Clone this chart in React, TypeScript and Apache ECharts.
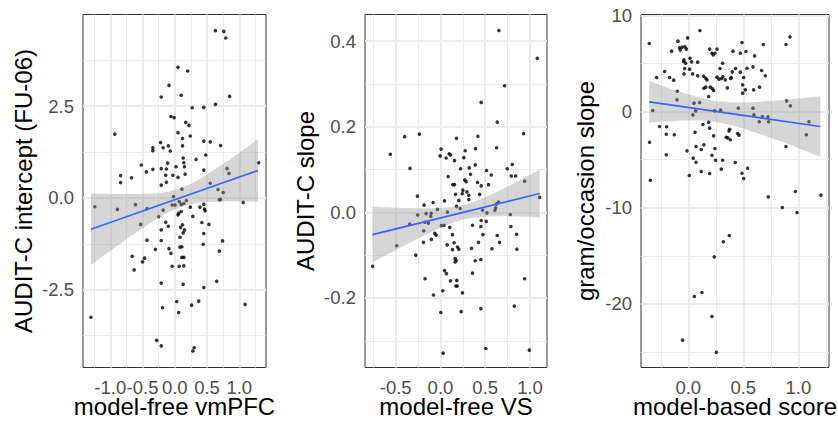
import React, { useEffect, useRef } from "react";
import * as echarts from "echarts";

const FONT = "'Liberation Sans', Arial, Helvetica, sans-serif";

// ---- Left panel: model-free vmPFC vs AUDIT-C intercept (FU-06) ----
const vmpfcPoints: [number, number][] = [
  [0.63, 4.56], [0.76, 4.54], [0.79, 4.36], [0.05, 3.56], [0.2, 3.46], [-0.09, 3.07],
  [0.85, 2.77], [-0.21, 2.75], [0.1, 2.8], [0.63, 2.55], [0.27, 2.46], [0.45, 2.47],
  [-0.93, 1.74], [-0.06, 2.22], [-0.01, 2.19], [0.17, 2.06], [0.22, 1.98], [0.24, 1.69],
  [0.05, 1.78], [0.45, 1.55], [0.55, 1.53], [0.71, 1.43], [-0.22, 1.51], [-0.1, 1.42],
  [-0.18, 1.37], [-0.34, 1.37], [-0.34, 1.29], [0.12, 1.62], [0.12, 1.42], [-0.07, 1.28],
  [0.48, 1.17], [0.13, 1.09], [0.14, 0.96], [0.33, 1.05], [-0.11, 0.95], [-0.52, 0.9],
  [-0.44, 0.71], [-0.34, 0.78], [-0.21, 0.8], [-0.13, 0.79], [0.02, 0.85], [0.15, 0.85],
  [0.16, 0.65], [-0.03, 0.62], [0.05, 0.56], [-0.14, 0.62], [-0.13, 0.43], [-0.21, 0.35],
  [-0.84, 0.61], [-0.84, 0.42], [-0.67, 0.55], [0.81, 0.8], [0.84, 0.67], [1.3, 0.96],
  [0.55, 0.4], [-0.02, 0.04], [0.67, 0.23], [0.75, 0.15], [0.11, 0.24], [0.45, 0.76],
  [-1.24, -0.24], [-0.89, -0.31], [-0.61, -0.18], [-0.43, -0.29], [-0.53, -0.72],
  [-0.66, -1.59], [-0.63, -1.96], [-0.5, -1.74], [-0.47, -1.64], [-0.43, -1.15],
  [-0.3, -1.4], [-0.25, -0.51], [-0.18, -0.33], [-0.14, -0.66], [-0.21, -0.87],
  [-0.1, -0.77], [-0.21, -1.16], [-0.09, -1.38], [-0.06, -1.51], [-0.04, -1.86],
  [-0.04, -0.19], [0.005, -0.19], [0.07, -0.1], [0.1, -0.18], [0.14, -0.15], [0.18, -0.07],
  [0.06, -0.42], [0.1, -0.37], [0.05, -0.46], [0.24, -0.25], [0.09, -0.8], [0.12, -0.73],
  [0.15, -0.87], [0.13, -0.95], [0.08, -1.07], [0.08, -1.34], [0.11, -1.33], [0.14, -1.62],
  [0.11, -1.62], [0.07, -1.86], [0.14, -1.85], [0.13, -2.35], [-0.21, -2.32], [-0.19, -2.99],
  [0.03, -2.82], [0.06, -3.12], [-0.28, -3.88], [-0.21, -4.03], [0.28, -4.17], [0.3, -4.08],
  [0.26, -2.92], [0.37, -2.81], [0.45, -2.44], [0.65, -2.27], [0.44, -1.26], [0.45, -0.97],
  [0.42, -0.67], [0.53, -0.72], [0.39, -0.25], [0.47, -0.35], [0.46, -0.3], [0.45, -0.17],
  [0.28, -0.5], [0.69, -1.45], [0.74, -1.17], [0.69, -0.05], [0.71, -0.04], [1.09, -2.9],
  [1.06, -0.12], [-1.3, -3.25],
];
const vmpfcFitX = [-1.3, 1.29];
const vmpfcFitY = [-0.85, 0.75];
const vmpfcBandX = [-1.3, -0.9, -0.5, -0.1, 0.3, 0.7, 1.0, 1.29];
const vmpfcBandLow = [-1.82, -1.315, -0.825, -0.39, -0.149, -0.097, -0.093, -0.098];
const vmpfcBandHigh = [0.12, 0.109, 0.113, 0.17, 0.427, 0.869, 1.235, 1.598];
const vmpfcXLim = [-1.423, 1.414];
const vmpfcYLim = [-4.62, 5.0];
const vmpfcXMajor = [-1.0, -0.5, 0.0, 0.5, 1.0];
const vmpfcXMinor = [-1.25, -0.75, -0.25, 0.25, 0.75, 1.25];
const vmpfcYMajor = [-2.5, 0.0, 2.5];
const vmpfcYMinor = [-3.75, -1.25, 1.25, 3.75];

// ---- Middle panel: model-free VS vs AUDIT-C slope ----
const vsPoints: [number, number][] = [
  [0.653, 0.425], [1.082, 0.36], [0.716, 0.296], [0.455, 0.257], [0.634, 0.211], [0.929, 0.184],
  [-0.235, 0.183], [-0.399, 0.177], [-0.56, 0.136], [-0.34, 0.103], [0.179, 0.173], [0.418, 0.178],
  [0.627, 0.151], [0.392, 0.149], [0.007, 0.148], [-0.004, 0.132], [0.063, 0.127], [0.097, 0.137],
  [0.112, 0.134], [0.157, 0.121], [0.276, 0.144], [0.261, 0.128], [0.388, 0.111], [0.224, 0.102],
  [0.321, 0.104], [0.336, 0.089], [0.515, 0.098], [0.567, 0.0875], [0.086, 0.084], [0.272, 0.076],
  [0.287, 0.072], [0.414, 0.07], [0.455, 0.062], [0.537, 0.065], [0.746, 0.102], [0.802, 0.112],
  [0.791, 0.085], [0.84, 0.085], [0.94, 0.073], [0.138, 0.065], [0.157, 0.065], [0.25, 0.052],
  [0.295, 0.048], [0.168, 0.042], [0.243, 0.044], [0.437, 0.042], [-0.257, 0.038], [0.317, 0.04],
  [1.108, 0.035], [-0.183, 0.017], [-0.082, 0.023], [0.045, 0.027], [0.205, 0.028], [0.317, 0.03],
  [0.179, 0.014], [0.22, 0.009], [0.078, 0.001], [-0.034, 0.007], [-0.104, -0.002], [-0.16, -0.003],
  [-0.254, -0.006], [-0.108, -0.009], [-0.175, -0.023], [-0.134, -0.025], [-0.343, -0.027],
  [-0.489, -0.078], [-0.757, -0.126], [-0.276, -0.1], [-0.187, -0.043], [-0.19, -0.07],
  [-0.101, -0.063], [-0.063, -0.049], [-0.049, -0.053], [0.011, -0.031], [0.041, -0.03],
  [0.104, -0.035], [0.134, -0.052], [0.075, -0.076], [0.153, -0.071], [0.19, -0.081],
  [0.205, -0.086], [0.134, -0.087], [0.164, -0.108], [0.175, -0.1125], [0.164, -0.116],
  [0.045, -0.136], [0.067, -0.143], [-0.172, -0.155], [0.112, -0.16], [0.183, -0.159],
  [0.187, -0.172], [0.172, -0.172], [0.246, -0.188], [0.026, -0.183], [-0.078, -0.193],
  [0.004, -0.234], [0.231, -0.232], [0.451, -0.225], [0.358, -0.03], [0.451, -0.033],
  [0.455, -0.019], [0.474, -0.052], [0.425, -0.07], [0.347, -0.084], [0.388, -0.113],
  [0.451, -0.11], [0.358, -0.142], [0.634, -0.054], [0.66, -0.07], [0.575, -0.085],
  [0.511, -0.021], [0.519, -0.001], [0.47, 0.005], [0.608, 0.005], [0.616, 0.011],
  [0.627, 0.02], [0.649, 0.024], [0.78, -0.005], [0.787, -0.033], [0.851, -0.051],
  [0.854, -0.086], [0.94, -0.155], [0.825, -0.219], [0.03, -0.329], [0.507, -0.318],
  [0.993, -0.322],
];
const vsFitX = [-0.76, 1.108];
const vsFitY = [-0.052, 0.044];
const vsBandX = [-0.76, -0.4, 0.0, 0.25, 0.5, 0.8, 1.108];
const vsBandLow = [-0.117, -0.0774, -0.036, -0.017, -0.01, -0.0095, -0.0115];
const vsBandHigh = [0.013, 0.0104, 0.0102, 0.017, 0.0356, 0.0661, 0.0995];
const vsXLim = [-0.843, 1.19];
const vsYLim = [-0.3625, 0.4625];
const vsXMajor = [-0.5, 0.0, 0.5, 1.0];
const vsXMinor = [-0.75, -0.25, 0.25, 0.75];
const vsYMajor = [-0.2, 0.0, 0.2, 0.4];
const vsYMinor = [-0.3, -0.1, 0.1, 0.3];

// ---- Right panel: model-based score vs gram/occasion slope ----
const mbPoints: [number, number][] = [
  [-0.355, 7.07], [-0.324, 0.1], [-0.352, -3.19], [-0.345, -7.14], [-0.288, 3.53], [-0.261, -1.56],
  [-0.2, -2.36], [-0.2, -4.5], [-0.215, 4.16], [-0.17, 3.53], [-0.133, 3.26], [-0.127, -2.42],
  [-0.197, -1.59], [-0.152, 6.27], [-0.1, 2.11], [-0.103, 1.21], [-0.094, 7.31], [-0.073, 6.41],
  [-0.079, 6.62], [-0.055, 6.69], [-0.03, 6.72], [-0.018, 6.48], [-0.006, 7.65], [-0.039, 5.37],
  [-0.042, 5.2], [-0.024, 5.02], [-0.033, 4.47], [-0.039, 3.91], [0.012, 4.4], [0.015, 5.54],
  [0.03, 5.16], [0.039, 3.91], [0.085, 5.13], [0.106, 8.42], [0.052, 0.87], [0.042, -0.35],
  [0.067, 0.07], [0.103, 0.94], [0.061, -2.15], [-0.012, -4.09], [0.009, -6.65], [0.045, -4.85],
  [0.07, -3.64], [0.07, -5.27], [0.118, -6.23], [0.118, -3.95], [0.142, -3.46], [0.133, -1.35],
  [0.085, 3.71], [0.139, 3.67], [0.158, 3.46], [0.142, 2.42], [0.158, 2.53], [0.2, 2.53],
  [0.23, 2.18], [0.218, 2.39], [0.185, 1.56], [0.17, 3.29], [0.194, 6.48], [0.215, 6.06],
  [0.227, 5.89], [0.242, 6.06], [0.261, 6.48], [0.194, -1.73], [0.185, -1.11], [0.23, -2.53],
  [0.242, -3.84], [0.248, -5.06], [0.215, -4.54], [0.194, -6.44], [0.3, -5.99], [0.312, -5.06],
  [0.288, 4.47], [0.312, 5.02], [0.261, 3.57], [0.279, 3.36], [0.303, 3.43], [0.315, 3.64],
  [0.294, 0.14], [0.336, 3.29], [0.355, 2.46], [0.385, 3.43], [0.4, 4.12], [0.43, 4.47],
  [0.391, 3.53], [0.376, -1.84], [0.37, -2.01], [0.358, -2.74], [0.345, -2.67], [0.382, -2.94],
  [0.448, -2.29], [0.461, -2.46], [0.427, -5.3], [0.406, 6.27], [0.473, 6.06], [0.488, 7.17],
  [0.524, 6.23], [0.473, 4.09], [0.503, 3.53], [0.518, 2.25], [0.494, 2.77], [0.494, 1.91],
  [0.455, 0.35], [0.533, 4.5], [0.588, 4.64], [0.603, 5.78], [0.594, 2.25], [0.648, 2.53],
  [0.588, 0.35], [0.597, -0.35], [0.645, -1.07], [0.673, -0.52], [0.73, -1.07], [0.724, -0.55],
  [0.488, -6.41], [0.503, -6.96], [0.539, -5.89], [0.667, 4.26], [0.7, 3.71], [0.682, 6.96],
  [0.888, 6.96], [0.924, 7.76], [0.894, 1.11], [0.927, 0.59], [0.888, -3.64], [1.073, -2.42],
  [1.097, -1.07], [0.727, -8.87], [0.973, -8.31], [1.206, -8.69], [0.855, -9.98], [0.988, -10.5],
  [0.373, -12.89], [0.318, -13.54], [0.236, -15.1], [0.124, -18.81], [0.055, -19.22],
  [0.215, -21.3], [-0.052, -23.76], [0.255, -25.01], [0.239, 0.07],
];
const mbFitX = [-0.355, 1.2];
const mbFitY = [1.0, -1.56];
const mbBandX = [-0.355, -0.1, 0.15, 0.3, 0.5, 0.8, 1.0, 1.2];
const mbBandLow = [-1.165, -0.958, -0.971, -1.19, -1.758, -2.936, -3.808, -4.71];
const mbBandHigh = [3.165, 2.118, 1.309, 1.034, 0.944, 1.134, 1.348, 1.59];
const mbXLim = [-0.43, 1.279];
const mbYLim = [-26.6, 10.08];
const mbXMajor = [0.0, 0.5, 1.0];
const mbXMinor = [-0.25, 0.25, 0.75, 1.25];
const mbYMajor = [-20, -10, 0, 10];
const mbYMinor = [-25, -15, -5, 5];

type Panel = {
  points: [number, number][];
  fitX: number[];
  fitY: number[];
  bandX: number[];
  bandLow: number[];
  bandHigh: number[];
  xLim: number[];
  yLim: number[];
  xMajor: number[];
  xMinor: number[];
  yMajor: number[];
  yMinor: number[];
  xDigits: number;
  yDigits: number;
  xTitle: string;
  yTitle: string;
  box: { left: number; top: number; width: number; height: number };
  yTitleX: number;
};

const panels: Panel[] = [
  {
    points: vmpfcPoints, fitX: vmpfcFitX, fitY: vmpfcFitY,
    bandX: vmpfcBandX, bandLow: vmpfcBandLow, bandHigh: vmpfcBandHigh,
    xLim: vmpfcXLim, yLim: vmpfcYLim,
    xMajor: vmpfcXMajor, xMinor: vmpfcXMinor, yMajor: vmpfcYMajor, yMinor: vmpfcYMinor,
    xDigits: 1, yDigits: 1,
    xTitle: "model-free vmPFC", yTitle: "AUDIT-C intercept (FU-06)",
    box: { left: 83, top: 14.5, width: 183, height: 353 }, yTitleX: 23,
  },
  {
    points: vsPoints, fitX: vsFitX, fitY: vsFitY,
    bandX: vsBandX, bandLow: vsBandLow, bandHigh: vsBandHigh,
    xLim: vsXLim, yLim: vsYLim,
    xMajor: vsXMajor, xMinor: vsXMinor, yMajor: vsYMajor, yMinor: vsYMinor,
    xDigits: 1, yDigits: 1,
    xTitle: "model-free VS", yTitle: "AUDIT-C slope",
    box: { left: 365, top: 14.5, width: 182, height: 353 }, yTitleX: 305,
  },
  {
    points: mbPoints, fitX: mbFitX, fitY: mbFitY,
    bandX: mbBandX, bandLow: mbBandLow, bandHigh: mbBandHigh,
    xLim: mbXLim, yLim: mbYLim,
    xMajor: mbXMajor, xMinor: mbXMinor, yMajor: mbYMajor, yMinor: mbYMinor,
    xDigits: 1, yDigits: 0,
    xTitle: "model-based score", yTitle: "gram/occasion slope",
    box: { left: 641, top: 14.5, width: 188, height: 353 }, yTitleX: 585,
  },
];

const GRID_COLOR = "#EBEBEB";
const TEXT_GREY = "#4D4D4D";
const FRAME_GREY = "#333333";

// Catmull-Rom curve through pixel points, written as cubic Bezier path commands.
function curveThrough(pts: number[][]): string {
  let d = "";
  for (let k = 0; k < pts.length - 1; k++) {
    const p0 = pts[Math.max(0, k - 1)];
    const p1 = pts[k];
    const p2 = pts[k + 1];
    const p3 = pts[Math.min(pts.length - 1, k + 2)];
    const c1x = p1[0] + (p2[0] - p0[0]) / 6;
    const c1y = p1[1] + (p2[1] - p0[1]) / 6;
    const c2x = p2[0] - (p3[0] - p1[0]) / 6;
    const c2y = p2[1] - (p3[1] - p1[1]) / 6;
    d += ` C ${c1x} ${c1y} ${c2x} ${c2y} ${p2[0]} ${p2[1]}`;
  }
  return d;
}

function buildOption() {
  const grid: any[] = [];
  const xAxis: any[] = [];
  const yAxis: any[] = [];
  const series: any[] = [];
  const graphic: any[] = [];

  panels.forEach((p, i) => {
    grid.push({
      ...p.box,
      show: true,
      backgroundColor: "#FFFFFF",
      borderColor: FRAME_GREY,
      borderWidth: 1,
      containLabel: false,
    });

    const axisCommon = (ticks: number[], digits: number) => ({
      type: "value",
      gridIndex: i,
      axisLine: { show: false },
      splitLine: { show: false },
      minorSplitLine: { show: false },
      axisTick: {
        show: true,
        inside: false,
        length: 4.5,
        customValues: ticks,
        lineStyle: { color: FRAME_GREY, width: 1 },
      },
      axisLabel: {
        show: true,
        customValues: ticks,
        hideOverlap: false,
        color: TEXT_GREY,
        fontSize: 18.5,
        fontFamily: FONT,
        formatter: (v: number) => v.toFixed(digits),
      },
    });

    const xa: any = axisCommon(p.xMajor, p.xDigits);
    xa.min = p.xLim[0];
    xa.max = p.xLim[1];
    xa.axisLabel.margin = 10;
    xAxis.push(xa);

    const ya: any = axisCommon(p.yMajor, p.yDigits);
    ya.min = p.yLim[0];
    ya.max = p.yLim[1];
    ya.axisLabel.margin = 9;
    yAxis.push(ya);

    const minorStyle = { color: GRID_COLOR, width: 1, type: "solid" };
    const majorStyle = { color: GRID_COLOR, width: 2, type: "solid" };
    const gridLines = [
      ...p.xMinor.map((v) => ({ xAxis: v, lineStyle: minorStyle })),
      ...p.yMinor.map((v) => ({ yAxis: v, lineStyle: minorStyle })),
      ...p.xMajor.map((v) => ({ xAxis: v, lineStyle: majorStyle })),
      ...p.yMajor.map((v) => ({ yAxis: v, lineStyle: majorStyle })),
    ];

    // panel grid lines
    series.push({
      type: "line",
      xAxisIndex: i,
      yAxisIndex: i,
      data: [],
      silent: true,
      z: 1,
      markLine: {
        silent: true,
        z: 1,
        symbol: ["none", "none"],
        label: { show: false },
        emphasis: { disabled: true },
        data: gridLines,
      },
    });

    // observations
    series.push({
      type: "scatter",
      xAxisIndex: i,
      yAxisIndex: i,
      data: p.points,
      symbol: "circle",
      symbolSize: 3.6,
      itemStyle: { color: "#000000" },
      silent: true,
      z: 3,
    });

    // confidence ribbon of the linear fit
    series.push({
      type: "custom",
      xAxisIndex: i,
      yAxisIndex: i,
      coordinateSystem: "cartesian2d",
      data: [[p.bandX[0], p.bandLow[0]]],
      silent: true,
      z: 4,
      renderItem: (params: any, api: any) => {
        if (params.dataIndex !== 0) return null;
        const upper = p.bandX.map((x, k) => api.coord([x, p.bandHigh[k]]));
        const lower = p.bandX
          .map((x, k) => api.coord([x, p.bandLow[k]]))
          .reverse();
        const d =
          `M ${upper[0][0]} ${upper[0][1]}` +
          curveThrough(upper) +
          ` L ${lower[0][0]} ${lower[0][1]}` +
          curveThrough(lower) +
          " Z";
        return {
          type: "path",
          shape: { pathData: d },
          style: { fill: "rgba(153,153,153,0.4)", stroke: "none" },
        };
      },
    });

    // fitted regression line
    series.push({
      type: "line",
      xAxisIndex: i,
      yAxisIndex: i,
      data: p.fitX.map((x, k) => [x, p.fitY[k]]),
      symbol: "none",
      lineStyle: { color: "#3366FF", width: 1.6 },
      silent: true,
      z: 5,
    });

    graphic.push({
      type: "text",
      x: p.box.left + p.box.width / 2,
      y: 406.5,
      silent: true,
      style: {
        text: p.xTitle,
        fontSize: 24,
        fontFamily: FONT,
        fill: "#000000",
        textAlign: "center",
        textVerticalAlign: "middle",
        align: "center",
        verticalAlign: "middle",
      },
    });
    graphic.push({
      type: "text",
      x: p.yTitleX,
      y: p.box.top + p.box.height / 2,
      rotation: Math.PI / 2,
      silent: true,
      style: {
        text: p.yTitle,
        fontSize: 24,
        fontFamily: FONT,
        fill: "#000000",
        textAlign: "center",
        textVerticalAlign: "middle",
        align: "center",
        verticalAlign: "middle",
      },
    });
  });

  return {
    animation: false,
    backgroundColor: "#FFFFFF",
    grid,
    xAxis,
    yAxis,
    series,
    graphic,
  };
}

export default function App() {
  const ref = useRef<HTMLDivElement>(null);

  useEffect(() => {
    if (!ref.current) return;
    const chart = echarts.init(ref.current, undefined, { renderer: "svg" });
    chart.setOption(buildOption() as any);
    return () => {
      chart.dispose();
    };
  }, []);

  return (
    <div
      ref={ref}
      style={{ position: "fixed", left: 0, top: 0, width: 838, height: 424 }}
    />
  );
}
